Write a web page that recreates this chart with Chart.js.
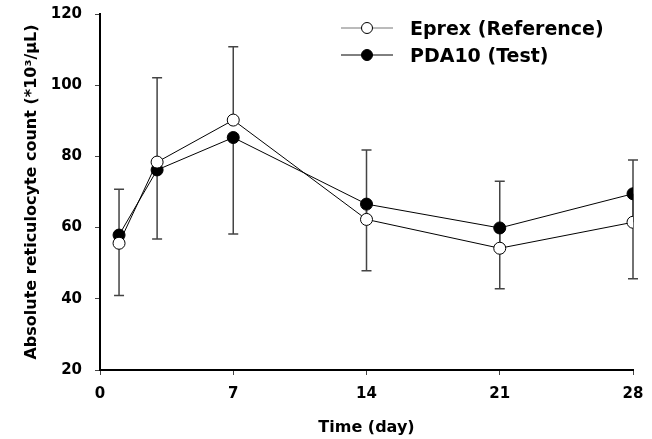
<!DOCTYPE html>
<html>
<head>
<meta charset="utf-8">
<script src="https://cdn.jsdelivr.net/npm/chart.js@4.4.1/dist/chart.umd.min.js"></script>
<style>
  html, body { margin: 0; padding: 0; background: #fff; }
  #wrap { width: 652px; height: 439px; }
</style>
</head>
<body>
<div id="wrap"><canvas id="reticChart" width="652" height="439"></canvas></div>
<script>
// sampling days and group means
const days = [1, 3, 7, 14, 21, 28];
const eprexMean = [55.6, 78.4, 90.2, 62.3, 54.2, 61.5];
const pdaMean = [57.9, 76.2, 85.3, 66.6, 59.9, 69.5];
// error bars: Eprex drawn upward, PDA10 drawn downward
const eprexSD = [15.2, 23.7, 20.6, 19.5, 18.8, 17.5];
const pdaSD = [17.0, 19.4, 27.1, 18.7, 17.1, 23.9];
const xTicks = [0, 7, 14, 21, 28];
const yTicks = [20, 40, 60, 80, 100, 120];

const FONT = "'DejaVu Sans', sans-serif";

const toPoints = (ys) => days.map((d, i) => ({ x: d, y: ys[i] }));

// draws the one-sided error bars behind the markers
const errorBars = {
    id: 'errorBars',
    beforeDatasetsDraw(chart) {
        const { ctx, scales: { x, y } } = chart;
        const sets = [
            { mean: eprexMean, sd: eprexSD, dir: 1 },
            { mean: pdaMean, sd: pdaSD, dir: -1 }
        ];
        ctx.save();
        ctx.strokeStyle = '#444';
        ctx.lineWidth = 1.5;
        sets.forEach(s => {
            days.forEach((d, i) => {
                const px = x.getPixelForValue(d);
                const y0 = y.getPixelForValue(s.mean[i]);
                const y1 = y.getPixelForValue(s.mean[i] + s.dir * s.sd[i]);
                ctx.beginPath();
                ctx.moveTo(px, y0);
                ctx.lineTo(px, y1);
                ctx.moveTo(px - 5, y1);
                ctx.lineTo(px + 5, y1);
                ctx.stroke();
            });
        });
        ctx.restore();
    }
};

// legend in the top right, line + marker + label
const legendBox = {
    id: 'legendBox',
    afterDraw(chart) {
        const { ctx } = chart;
        const items = [
            { label: 'Eprex (Reference)', fill: '#fff', line: '#777', y: 28 },
            { label: 'PDA10 (Test)', fill: '#000', line: '#000', y: 55 }
        ];
        ctx.save();
        items.forEach(it => {
            ctx.strokeStyle = it.line;
            ctx.lineWidth = 1;
            ctx.beginPath();
            ctx.moveTo(341, it.y);
            ctx.lineTo(393, it.y);
            ctx.stroke();
            ctx.beginPath();
            ctx.arc(367, it.y, 5.5, 0, Math.PI * 2);
            ctx.fillStyle = it.fill;
            ctx.fill();
            ctx.strokeStyle = '#000';
            ctx.stroke();
            ctx.fillStyle = '#000';
            ctx.font = 'bold 19px ' + FONT;
            ctx.textBaseline = 'middle';
            ctx.textAlign = 'left';
            ctx.fillText(it.label, 410, it.y + 2);
        });
        ctx.restore();
    }
};

const ctx = document.getElementById('reticChart').getContext('2d');

const chart = new Chart(ctx, {
    type: 'line',
    data: {
        datasets: [
            {
                label: 'Eprex (Reference)',
                data: toPoints(eprexMean),
                borderColor: '#000',
                borderWidth: 1,
                pointRadius: 6,
                pointBackgroundColor: '#fff',
                pointBorderColor: '#000',
                pointBorderWidth: 1,
                tension: 0
            },
            {
                label: 'PDA10 (Test)',
                data: toPoints(pdaMean),
                borderColor: '#000',
                borderWidth: 1,
                pointRadius: 6,
                pointBackgroundColor: '#000',
                pointBorderColor: '#000',
                pointBorderWidth: 1,
                tension: 0
            }
        ]
    },
    options: {
        responsive: false,
        animation: false,
        layout: { padding: { left: 0, right: 19, top: 14, bottom: 0 } },
        plugins: {
            legend: { display: false },
            tooltip: { enabled: false }
        },
        scales: {
            x: {
                type: 'linear',
                min: 0,
                max: 28,
                afterBuildTicks: (axis) => { axis.ticks = xTicks.map(v => ({ value: v })); },
                afterFit: (axis) => {
                    axis.height = 69;
                    axis.paddingLeft = 0;
                    axis.paddingRight = 0;
                },
                grid: { drawOnChartArea: false, drawTicks: true, tickLength: 5, color: '#444', lineWidth: 1 },
                border: { display: true, color: '#000', width: 2 },
                ticks: { color: '#000', padding: 10, font: { family: FONT, size: 15, weight: 'bold' } },
                title: {
                    display: true,
                    text: 'Time (day)',
                    color: '#000',
                    padding: { top: 0, bottom: 2 },
                    font: { family: FONT, size: 16, weight: 'bold' }
                }
            },
            y: {
                min: 20,
                max: 120,
                afterBuildTicks: (axis) => { axis.ticks = yTicks.map(v => ({ value: v })); },
                afterFit: (axis) => {
                    axis.width = 100;
                    axis.paddingTop = 0;
                    axis.paddingBottom = 0;
                },
                grid: { drawOnChartArea: false, drawTicks: true, tickLength: 5, color: '#444', lineWidth: 1 },
                border: { display: true, color: '#000', width: 2 },
                ticks: { color: '#000', padding: 13, font: { family: FONT, size: 15, weight: 'bold' } },
                title: {
                    display: true,
                    text: 'Absolute reticulocyte count (*10³/μL)',
                    color: '#000',
                    padding: { top: 22, bottom: 0 },
                    font: { family: FONT, size: 16, weight: 'bold' }
                }
            }
        }
    },
    plugins: [errorBars, legendBox]
});
</script>
</body>
</html>
